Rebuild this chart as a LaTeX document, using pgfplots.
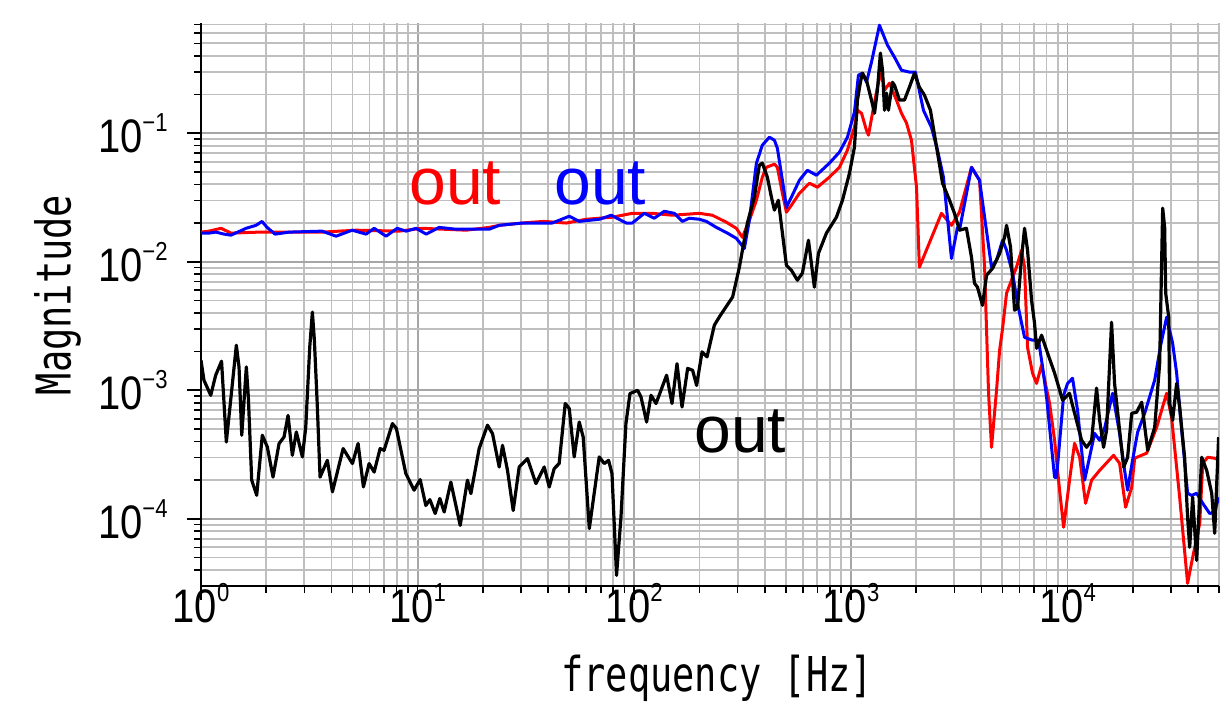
\documentclass[border=0pt]{standalone}
\usepackage{pgfplots}
\pgfplotsset{compat=1.18}
\usepackage{fontspec}
\setmainfont{Liberation Sans}
\newfontfamily\tickfont[FakeStretch=0.85]{Liberation Sans}
\newfontfamily\labfont[FakeStretch=0.77]{DejaVu Sans Mono}
\newcommand{\tl}[1]{\tickfont\fontsize{23.5}{24}\selectfont 10\raisebox{10.5pt}{\fontsize{13}{13}\selectfont #1}}
\begin{document}
\begin{tikzpicture}
\path[use as bounding box] (0,0) rectangle (610.5pt,359.5pt);
\begin{axis}[
  at={(100.5pt,66.5pt)}, anchor=south west,
  scale only axis, width=509pt, height=281.5pt,
  xmode=log, ymode=log,
  xmin=1, xmax=50000, ymin=3e-5, ymax=0.72,
  axis x line*=bottom, axis y line*=left,
  x axis line style={-, line width=1pt},
  y axis line style={-, line width=1pt},
  tick align=outside,
  major tick length=7pt, minor tick length=3.5pt,
  every tick/.style={black, line width=0.8pt},
  grid=both,
  major grid style={black!35, line width=0.9pt},
  minor grid style={black!25, line width=0.9pt},
  xtick={1,10,100,1000,10000},
  minor xtick={2,3,4,5,6,7,8,9,20,30,40,50,60,70,80,90,200,300,400,500,600,700,800,900,2000,3000,4000,5000,6000,7000,8000,9000,20000,30000,40000,50000},
  xticklabels={{\tl{0}},{\tl{1}},{\tl{2}},{\tl{3}},{\tl{4}}},
  ytick={1e-4,1e-3,1e-2,1e-1},
  minor ytick={4e-5,5e-5,6e-5,7e-5,8e-5,9e-5,2e-4,3e-4,4e-4,5e-4,6e-4,7e-4,8e-4,9e-4,2e-3,3e-3,4e-3,5e-3,6e-3,7e-3,8e-3,9e-3,2e-2,3e-2,4e-2,5e-2,6e-2,7e-2,8e-2,9e-2,0.2,0.3,0.4,0.5,0.6,0.7},
  yticklabels={{\tl{−4}},{\tl{−3}},{\tl{−2}},{\tl{−1}}},
  xticklabel style={anchor=base, inner sep=0pt, yshift=-11pt},
  yticklabel style={anchor=east, inner sep=0pt, xshift=-9.5pt},
  xlabel={\labfont\fontsize{24}{24}\selectfont frequency [Hz]},
  ylabel={\labfont\fontsize{24}{24}\selectfont Magnitude},
  every axis x label/.style={at={(axis description cs:0.507,-0.1865)}, anchor=base, inner sep=0pt},
  every axis y label/.style={at={(axis description cs:-0.128,0.517)}, anchor=base, rotate=90, inner sep=0pt},
  clip=true,
]
% red
\addplot[red, line width=1.5pt, line join=round] coordinates {
(1.0,1.70e-2)(1.089,1.73e-2)(1.237,1.82e-2)(1.376,1.67e-2)(1.853,1.70e-2)(2.836,1.70e-2)(3.622,1.70e-2)(5.20,1.76e-2)(8.21,1.73e-2)(10.49,1.82e-2)(16.75,1.76e-2)(21.39,1.85e-2)(23.79,1.92e-2)(30.39,2.0e-2)(33.8,2.03e-2)(38.4,2.06e-2)(48.5,2.0e-2)(60.0,2.14e-2)(68.9,2.18e-2)(79.1,2.22e-2)(97.9,2.38e-2)(121.1,2.38e-2)(149.9,2.30e-2)(199.6,2.38e-2)(229.2,2.30e-2)(266.0,2.03e-2)(295.9,1.82e-2)(315.4,1.55e-2)(339.8,2.10e-2)(366.2,3.01e-2)(390.0,4.55e-2)(407.1,5.43e-2)(443.4,5.74e-2)(457.6,5.43e-2)(482.7,3.41e-2)(503.7,2.43e-2)(531.2,2.75e-2)(578.1,3.41e-2)(643.0,4.08e-2)(700.3,3.80e-2)(795.6,4.55e-2)(885.0,5.43e-2)(963.5,7.38e-2)(1038,0.111)(1072,0.151)(1119,0.143)(1180,0.105)(1205,9.65e-2)(1257,0.143)(1325,0.228)(1383,0.309)(1429,0.216)(1506,0.245)(1622,0.181)(1711,0.143)(1805,0.120)(1903,8.82e-2)(2008,3.80e-2)(2070,9.06e-3)(2618,2.38e-2)(2911,1.92e-2)(3170,2.43e-2)(3603,5.43e-2)(3925,4.30e-2)(4140,9.06e-3)(4227,2.93e-3)(4318,9.48e-4)(4456,3.60e-4)(4700,1.0e-3)(4856,2.05e-3)(5012,3.03e-3)(5228,5.69e-3)(5808,9.06e-3)(6133,1.23e-2)(6330,9.06e-3)(6534,2.16e-3)(6890,1.36e-3)(7195,1.13e-3)(7586,1.57e-3)(8258,7.92e-4)(8710,4.08e-4)(9183,1.67e-4)(9590,8.59e-5)(10210,2.0e-4)(10770,3.87e-4)(11370,3.01e-4)(12110,1.32e-4)(12910,2.0e-4)(14060,2.38e-4)(16310,3.12e-4)(17380,2.70e-4)(18530,1.23e-4)(19770,1.76e-4)(20400,2.96e-4)(23170,3.24e-4)(25770,5.15e-4)(28650,9.48e-4)(30200,6.17e-4)(32910,1.47e-4)(35810,3.15e-5)(37790,5.01e-5)(40740,9.23e-5)(42070,2.70e-4)(44340,3.01e-4)(47760,2.96e-4)(49800,2.85e-4)
};
% blue
\addplot[blue, line width=1.5pt, line join=round] coordinates {
(1.0,1.67e-2)(1.089,1.67e-2)(1.173,1.70e-2)(1.277,1.64e-2)(1.376,1.61e-2)(1.614,1.82e-2)(1.795,1.92e-2)(1.913,2.06e-2)(2.018,1.85e-2)(2.197,1.64e-2)(2.550,1.70e-2)(3.622,1.73e-2)(4.204,1.58e-2)(4.984,1.76e-2)(5.78,1.64e-2)(6.30,1.82e-2)(7.15,1.58e-2)(8.04,1.82e-2)(8.85,1.73e-2)(9.84,1.82e-2)(10.95,1.64e-2)(12.57,1.85e-2)(15.06,1.79e-2)(19.86,1.79e-2)(21.39,1.79e-2)(23.79,1.92e-2)(30.39,2.0e-2)(33.8,2.0e-2)(41.8,2.0e-2)(50.1,2.26e-2)(55.7,2.06e-2)(68.9,2.14e-2)(78.3,2.30e-2)(91.8,2.0e-2)(97.9,2.0e-2)(111.2,2.38e-2)(123.7,2.18e-2)(137.6,2.47e-2)(153.0,2.38e-2)(166.6,2.06e-2)(179.5,2.18e-2)(199.6,2.14e-2)(215.1,2.06e-2)(239.2,1.85e-2)(269.0,1.67e-2)(295.9,1.52e-2)(322.2,1.27e-2)(339.8,2.10e-2)(366.2,5.85e-2)(390.0,8.07e-2)(420.4,9.31e-2)(443.4,8.82e-2)(457.6,7.64e-2)(482.7,4.30e-2)(503.7,2.65e-2)(531.2,3.18e-2)(578.1,4.30e-2)(629.5,5.15e-2)(693.1,4.71e-2)(795.6,5.85e-2)(885.0,7.12e-2)(963.5,9.31e-2)(1038,0.146)(1083,0.283)(1130,0.293)(1180,0.249)(1244,0.357)(1354,0.692)(1475,0.484)(1589,0.390)(1711,0.309)(1862,0.299)(1985,0.299)(2161,0.151)(2353,0.111)(2510,7.38e-2)(2673,4.55e-2)(2911,1.06e-2)(3103,1.85e-2)(3170,1.76e-2)(3603,5.43e-2)(3925,4.30e-2)(4140,2.22e-2)(4456,9.06e-3)(4700,1.03e-2)(5012,1.47e-2)(5228,1.23e-2)(5572,8.15e-3)(5872,4.75e-3)(6330,2.58e-3)(6890,2.45e-3)(7345,2.45e-3)(7670,1.51e-3)(8000,8.83e-4)(8258,5.15e-4)(8710,2.10e-4)(8895,2.10e-4)(9590,9.14e-4)(10000,1.13e-3)(10540,1.24e-3)(11120,6.98e-4)(11990,2.0e-4)(13330,4.62e-4)(14060,4.08e-4)(14820,5.06e-4)(16140,9.48e-4)(17380,4.62e-4)(18330,2.38e-4)(18930,1.67e-4)(19950,2.85e-4)(21050,4.71e-4)(22690,6.62e-4)(25240,1.20e-3)(26900,2.24e-3)(28650,3.70e-3)(30550,2.32e-3)(31870,1.36e-3)(33960,4.08e-4)(35810,1.58e-4)(37380,1.52e-4)(39420,1.58e-4)(42070,1.32e-4)(45290,1.10e-4)(47760,1.13e-4)(49800,1.47e-4)
};
% black
\addplot[black, line width=1.6pt, line join=round] coordinates {
(1.0,1.71e-3)(1.032,1.197e-3)(1.109,9.14e-4)(1.169,1.309e-3)(1.244,1.683e-3)(1.309,3.96e-4)(1.386,1.0e-3)(1.456,2.24e-3)(1.498,1.517e-3)(1.542,4.47e-4)(1.619,1.52e-3)(1.654,8.87e-4)(1.714,2.0e-4)(1.808,1.524e-4)(1.919,4.47e-4)(2.024,3.62e-4)(2.150,2.11e-4)(2.293,3.85e-4)(2.417,4.33e-4)(2.523,6.38e-4)(2.640,3.12e-4)(2.755,4.74e-4)(2.938,3.03e-4)(3.045,5.18e-4)(3.177,2.17e-3)(3.267,4.06e-3)(3.337,2.45e-3)(3.434,8.36e-4)(3.545,2.11e-4)(3.831,2.85e-4)(4.043,1.62e-4)(4.53,3.52e-4)(5.0,2.69e-4)(5.31,3.85e-4)(5.62,1.77e-4)(5.97,2.69e-4)(6.30,2.31e-4)(6.71,3.52e-4)(7.00,3.41e-4)(7.65,5.51e-4)(7.98,5.04e-4)(8.82,2.25e-4)(9.63,1.67e-4)(10.27,2.02e-4)(10.91,1.27e-4)(11.39,1.41e-4)(12.05,1.10e-4)(12.66,1.44e-4)(13.26,1.13e-4)(14.23,1.93e-4)(15.72,8.89e-5)(16.98,2.0e-4)(17.61,1.57e-4)(19.23,3.52e-4)(21.01,5.35e-4)(22.16,4.60e-4)(23.79,2.53e-4)(24.65,3.73e-4)(25.99,2.38e-4)(27.61,1.16e-4)(29.43,2.53e-4)(32.15,2.94e-4)(35.16,1.88e-4)(38.4,2.53e-4)(40.5,1.77e-4)(42.7,2.46e-4)(45.0,2.69e-4)(48.0,7.89e-4)(50.1,7.21e-4)(52.8,3.03e-4)(55.7,5.66e-4)(58.1,4.33e-4)(62.0,8.39e-5)(68.9,3.03e-4)(72.7,2.69e-4)(76.1,2.85e-4)(78.9,2.25e-4)(82.8,3.63e-5)(86.8,1.03e-4)(91.5,5.51e-4)(95.5,9.42e-4)(103.6,1.0e-3)(107.4,8.87e-4)(114.0,5.66e-4)(119.5,9.14e-4)(126.0,7.89e-4)(141.0,1.31e-3)(149.3,7.89e-4)(157.5,1.61e-3)(166.1,7.41e-4)(176.3,1.48e-3)(185.9,1.43e-3)(194.0,1.09e-3)(205.5,1.99e-3)(216.7,1.82e-3)(234.2,3.21e-3)(247.0,3.72e-3)(284.4,5.32e-3)(305.5,9.06e-3)(332.6,2.0e-2)(358.4,3.18e-2)(377.8,5.64e-2)(390.0,5.85e-2)(411.3,4.55e-2)(429.5,3.18e-2)(443.4,2.52e-2)(462.4,3.01e-2)(482.7,1.67e-2)(503.7,9.40e-3)(531.2,8.59e-3)(566.0,7.18e-3)(597.0,8.15e-3)(636.8,1.47e-2)(678.0,6.34e-3)(707.9,1.16e-2)(770.9,1.67e-2)(857.0,2.22e-2)(914.0,3.01e-2)(984.7,4.89e-2)(1038,7.78e-2)(1072,0.181)(1106,0.249)(1130,0.293)(1180,0.258)(1244,0.181)(1285,0.143)(1325,0.216)(1368,0.420)(1399,0.309)(1429,0.151)(1459,0.205)(1490,0.151)(1555,0.249)(1589,0.236)(1675,0.181)(1766,0.181)(1862,0.228)(1964,0.293)(2070,0.228)(2184,0.198)(2328,0.151)(2455,8.82e-2)(2648,4.08e-2)(2852,3.01e-2)(3006,2.38e-2)(3170,1.76e-2)(3413,1.82e-2)(3603,1.08e-2)(3717,6.81e-3)(3838,6.34e-3)(4048,4.58e-3)(4227,7.85e-3)(4508,8.89e-3)(4856,1.16e-2)(5118,1.55e-2)(5228,1.92e-2)(5454,1.30e-2)(5690,4.20e-3)(5872,4.35e-3)(6133,1.08e-2)(6330,1.82e-2)(6534,1.23e-2)(6820,5.01e-3)(7040,3.32e-3)(7195,2.12e-3)(7586,2.68e-3)(8000,2.05e-3)(8710,1.36e-3)(9485,8.36e-4)(10210,9.48e-4)(10540,7.64e-4)(11610,4.08e-4)(12240,3.60e-4)(12910,4.08e-4)(13610,1.04e-3)(14060,5.85e-4)(14660,3.60e-4)(15140,4.89e-4)(15960,3.38e-3)(16480,1.13e-3)(17380,4.89e-4)(18150,2.52e-4)(18930,3.01e-4)(19770,6.62e-4)(20840,6.75e-4)(21980,8.07e-4)(23430,3.41e-4)(25240,5.15e-4)(26610,1.62e-3)(27480,2.61e-2)(28060,1.85e-2)(28380,5.69e-3)(29300,3.70e-3)(29600,7.92e-4)(30550,5.85e-4)(31870,1.13e-3)(32910,7.38e-4)(34690,3.01e-4)(35810,1.03e-4)(36620,6.0e-5)(37790,1.47e-4)(39420,4.75e-5)(41590,3.01e-4)(43870,2.38e-4)(46270,1.58e-4)(47760,7.71e-5)(49800,4.31e-4)
};
\end{axis}
\node[anchor=base west, inner sep=0pt, text=red, font=\fontsize{33}{33}\selectfont] at (204.5pt,257pt) {out};
\node[anchor=base west, inner sep=0pt, text=blue, font=\fontsize{33}{33}\selectfont] at (277pt,257pt) {out};
\node[anchor=base west, inner sep=0pt, text=black, font=\fontsize{33}{33}\selectfont] at (347pt,133.2pt) {out};
\end{tikzpicture}
\end{document}
